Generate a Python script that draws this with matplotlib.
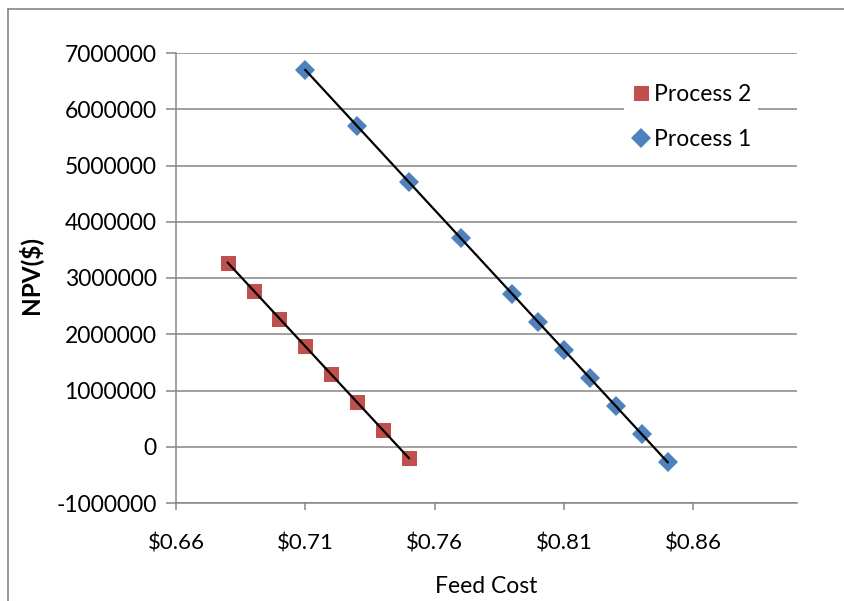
import matplotlib.pyplot as plt
from matplotlib.lines import Line2D
from matplotlib.ticker import FuncFormatter, MultipleLocator
import numpy as np

plt.rcParams['font.family'] = ['Lato', 'DejaVu Sans']

# feed cost ($) and NPV ($) for each process
cost_p2 = [0.68, 0.69, 0.70, 0.71, 0.72, 0.73, 0.74, 0.75]
npv_p2 = [3270000, 2775000, 2280000, 1785000, 1290000, 790000, 295000, -205000]

cost_p1 = [0.71, 0.73, 0.75, 0.77, 0.79, 0.80, 0.81, 0.82, 0.83, 0.84, 0.85]
npv_p1 = [6700000, 5700000, 4700000, 3710000, 2720000, 2220000, 1720000,
          1220000, 720000, 220000, -275000]

red = '#C0504D'
blue = '#4F81BD'
grid = '#868686'

fig = plt.figure(figsize=(8.44, 6.01), dpi=100)
ax = fig.add_axes([176 / 844, 1 - 503 / 601, (797 - 176) / 844, (503 - 53) / 601])

ax.plot(cost_p2, npv_p2, 's', color=red, markersize=10.8, markeredgewidth=0,
        label='Process 2', zorder=3)
ax.plot(cost_p1, npv_p1, 'D', color=blue, markersize=10.5, markeredgewidth=0,
        label='Process 1', zorder=3)

# linear trendlines
for xs, ys in [(cost_p2, npv_p2), (cost_p1, npv_p1)]:
    k, b = np.polyfit(xs, ys, 1)
    xx = np.array([xs[0], xs[-1]])
    ax.plot(xx, k * xx + b, color='black', linewidth=1.6, zorder=4)

ax.set_xlim(0.66, 0.90)
ax.set_ylim(-1000000, 7000000)
ax.set_xticks([0.66, 0.71, 0.76, 0.81, 0.86])
ax.yaxis.set_major_locator(MultipleLocator(1000000))
ax.xaxis.set_major_formatter(FuncFormatter(lambda v, p: '${:.2f}'.format(v)))
ax.yaxis.set_major_formatter(FuncFormatter(lambda v, p: str(int(round(v)))))

ax.grid(axis='y', color=grid, linewidth=1.1)
ax.set_axisbelow(True)
for s in ['top', 'right']:
    ax.spines[s].set_visible(False)
for s in ['left', 'bottom']:
    ax.spines[s].set_color(grid)
    ax.spines[s].set_linewidth(1.1)

ax.tick_params(axis='y', length=7, width=1.1, color=grid, pad=7, labelsize=16.5)
ax.tick_params(axis='x', length=5, width=1.1, color=grid, pad=17, labelsize=16)

ax.set_xlabel('Feed Cost', fontsize=16.5, labelpad=16)
ax.set_ylabel('NPV($)', fontsize=17.5, fontweight='bold')
ax.yaxis.set_label_coords(30 / 844, 1 - 275 / 601, transform=fig.transFigure)
ax.yaxis.label.set_va('center')

leg = ax.legend(loc='upper left', bbox_to_anchor=(613 / 844, 1 - 66 / 601),
                bbox_transform=fig.transFigure, fontsize=16.5, frameon=True,
                facecolor='white', edgecolor='none', framealpha=1,
                handlelength=0.8, handletextpad=0.2, labelspacing=1.05,
                borderpad=0.3, fancybox=False)

# chart border (top and left)
fig.add_artist(Line2D([8 / 844, 8 / 844], [0, 1 - 9 / 601], transform=fig.transFigure,
                      color=grid, linewidth=1.2))
fig.add_artist(Line2D([8 / 844, 1], [1 - 9 / 601, 1 - 9 / 601], transform=fig.transFigure,
                      color=grid, linewidth=1.2))

fig.savefig('out.png', dpi=100)
